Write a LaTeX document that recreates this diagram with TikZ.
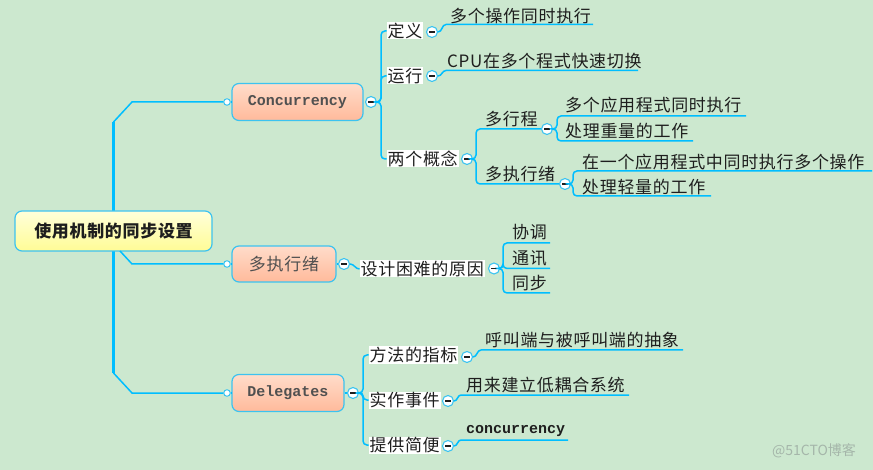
\documentclass[tikz,border=0pt]{standalone}
\usepackage{fontspec}
\setmainfont{Liberation Sans}
\newfontfamily\cjk[LetterSpace=4]{Noto Sans CJK SC}
\newfontfamily\cjkwm{Noto Sans CJK SC}
\newfontfamily\monof{Liberation Mono}
\definecolor{bgc}{RGB}{204,232,207}
\definecolor{ln}{RGB}{0,190,255}
\definecolor{bd}{RGB}{60,195,240}
\definecolor{txt}{RGB}{30,30,30}
\definecolor{boxtxt}{RGB}{80,80,80}
\definecolor{salT}{RGB}{255,220,202}
\definecolor{salB}{RGB}{255,186,155}
\definecolor{yelT}{RGB}{255,255,218}
\definecolor{yelB}{RGB}{255,252,150}
\definecolor{wm}{RGB}{165,182,170}
\tikzset{
  trunk/.style={line width=3.5pt, draw=ln},
  conn/.style={line width=1.5pt, draw=ln},
  br/.style={line width=1.5pt, draw=ln, rounded corners=4pt},
  mainbox/.style={draw=bd, line width=1.2pt, rounded corners=7pt, top color=salT, bottom color=salB, inner sep=0, text=boxtxt},
  cjkfont/.style={font=\cjk\fontsize{17}{17}\selectfont},
  wbox/.style={cjkfont, fill=white, inner xsep=1pt, inner ysep=0.5pt, anchor=west, text=txt, text height=14.5pt, text depth=1.5pt},
  leaf/.style={cjkfont, inner sep=0, anchor=west, text=txt, text height=14.5pt, text depth=1.5pt},
  ccirc/.style={circle, draw=bd, fill=white, line width=1.1pt, minimum size=11pt, inner sep=0,
    path picture={\draw[line width=1.3pt, txt] ([xshift=-2.6pt]path picture bounding box.center) -- ([xshift=2.6pt]path picture bounding box.center);}},
  ocirc/.style={circle, draw=bd, fill=white, line width=1pt, minimum size=6.5pt, inner sep=0}
}
\begin{document}
\begin{tikzpicture}[x=1pt,y=-1pt]
\fill[bgc] (0,0) rectangle (873,470);
\useasboundingbox (0,0) rectangle (873,470);

% trunk
\coordinate (tT) at (113.5,122);
\coordinate (tB) at (113.5,373);
\coordinate (rs) at (120,251);
\draw[trunk] (tT) -- (tB);

% root
\node[draw=bd, line width=1.2pt, rounded corners=7pt, top color=yelT, bottom color=yelB,
      minimum width=197pt, minimum height=40pt, inner sep=0, text=txt,
      font=\cjk\bfseries\fontsize{17}{17}\selectfont] (root) at (113.5,231) {使用机制的同步设置};

% main boxes
\node[mainbox, minimum width=131pt, minimum height=37pt, font=\monof\bfseries\fontsize{15}{15}\selectfont] (conc) at (297.5,102) {Concurrency};
\node[mainbox, minimum width=104pt, minimum height=36pt, cjkfont] (dzx) at (284,264) {多执行绪};
\node[mainbox, minimum width=112pt, minimum height=37pt, font=\monof\bfseries\fontsize{15}{15}\selectfont] (deleg) at (288,393) {Delegates};

\node[ocirc] (k1) at (227,102) {};
\node[ocirc] (k2) at (227,264) {};
\node[ocirc] (k3) at (227,393) {};
\draw[conn] (tT) -- (132,102) -- (k1);
\draw[conn] (rs) -- (132,264) -- (k2);
\draw[conn] (tB) -- (132,393) -- (k3);
\draw[conn] (k1) -- (conc.west);
\draw[conn] (k2) -- (dzx.west);
\draw[conn] (k3) -- (deleg.west);

\node[ccirc] (cc1) at (371,102) {};
\node[ccirc] (cc2) at (344,264) {};
\node[ccirc] (cc3) at (353,393) {};

% ---------- Concurrency ----------
\node[wbox] (dy) at (386.5,31) {定义};
\node[wbox] (yx) at (386.5,76) {运行};
\node[wbox] (lg) at (386.5,159) {两个概念};
\draw[br] (cc1.east) -- (381,102) |- (dy.west);
\draw[br] (cc1.east) -- (381,102) |- (yx.west);
\draw[br] (cc1.east) -- (381,102) |- (lg.west);

\node[ccirc] (cdy) at (432,32) {};
\node[ccirc] (cyx) at (432,76) {};
\node[ccirc] (clg) at (467,159) {};

\node[leaf] (tdy) at (450,16) {多个操作同时执行};
\coordinate (edy) at (593,24.5);
\draw[conn] (cdy.east) to[out=0,in=180] (446,24.5) -- (edy);

\node[leaf] (tyx) at (447,61) {CPU在多个程式快速切换};
\coordinate (eyx) at (638,70.5);
\draw[conn] (cyx.east) to[out=0,in=180] (446,70.5) -- (eyx);

\node[ccirc] (cdxc) at (547,129) {};
\node[ccirc] (cdzx) at (565,184) {};
\node[leaf] (tdxc) at (485,119.5) {多行程};
\node[leaf] (tdzx) at (485,174) {多执行绪};
\draw[br] (clg.east) -- (476,159) |- (cdxc.west);
\draw[br] (clg.east) -- (476,159) |- (cdzx.west);

\node[leaf] (a1) at (565,105) {多个应用程式同时执行};
\node[leaf] (a2) at (565,131) {处理重量的工作};
\coordinate (ea1) at (746,116);
\coordinate (ea2) at (693,141);
\draw[br] (cdxc.east) -- (557,129) |- (ea1);
\draw[br] (cdxc.east) -- (557,129) |- (ea2);

\node[leaf] (b1) at (582,162) {在一个应用程式中同时执行多个操作};
\node[leaf] (b2) at (582,187) {处理轻量的工作};
\coordinate (eb1) at (872,171);
\coordinate (eb2) at (711,196);
\draw[br] (cdzx.east) -- (573,184) |- (eb1);
\draw[br] (cdzx.east) -- (573,184) |- (eb2);

% ---------- 多执行绪 ----------
\draw[conn] (dzx.east) -- (cc2);
\node[wbox] (why) at (359.5,269) {设计困难的原因};
\draw[conn] (cc2.east) to[out=0,in=180] (why.west);
\node[ccirc] (cwhy) at (494,268.5) {};
\node[leaf] (c1) at (512,232.5) {协调};
\node[leaf] (c2) at (512,258) {通讯};
\node[leaf] (c3) at (512,283) {同步};
\coordinate (ec1) at (550,243);
\coordinate (ec2) at (550,268.5);
\coordinate (ec3) at (550,293);
\draw[br] (cwhy.east) -- (503,268.5) |- (ec1);
\draw[br] (cwhy.east) -- (503,268.5) |- (ec2);
\draw[br] (cwhy.east) -- (503,268.5) |- (ec3);

% ---------- Delegates ----------
\draw[conn] (deleg.east) -- (cc3);
\node[wbox] (ff) at (368.5,355) {方法的指标};
\node[wbox] (sz) at (368.5,400) {实作事件};
\node[wbox] (tg) at (368.5,445) {提供简便};
\draw[br] (cc3.east) -- (363,393) |- (ff.west);
\draw[br] (cc3.east) -- (363,393) |- (sz.west);
\draw[br] (cc3.east) -- (363,393) |- (tg.west);

\node[ccirc] (cff) at (467,357) {};
\node[ccirc] (csz) at (448,401) {};
\node[ccirc] (ctg) at (448,446) {};

\node[leaf] (d1) at (485,340) {呼叫端与被呼叫端的抽象};
\coordinate (ed1) at (683,350);
\draw[conn] (cff.east) to[out=0,in=180] (481,350) -- (ed1);

\node[leaf] (d2) at (466,385) {用来建立低耦合系统};
\coordinate (ed2) at (629,395);
\draw[conn] (csz.east) to[out=0,in=180] (461,395) -- (ed2);

\node[inner sep=0, anchor=west, text=txt, font=\monof\bfseries\fontsize{15}{15}\selectfont] (d3) at (466,431) {concurrency};
\coordinate (ed3) at (568,440);
\draw[conn] (ctg.east) to[out=0,in=180] (461,440) -- (ed3);

% watermark
\node[font=\cjkwm\fontsize{14}{14}\selectfont, text=wm, inner sep=0] (wmk) at (814,451) {@51CTO博客};
\end{tikzpicture}
\end{document}
